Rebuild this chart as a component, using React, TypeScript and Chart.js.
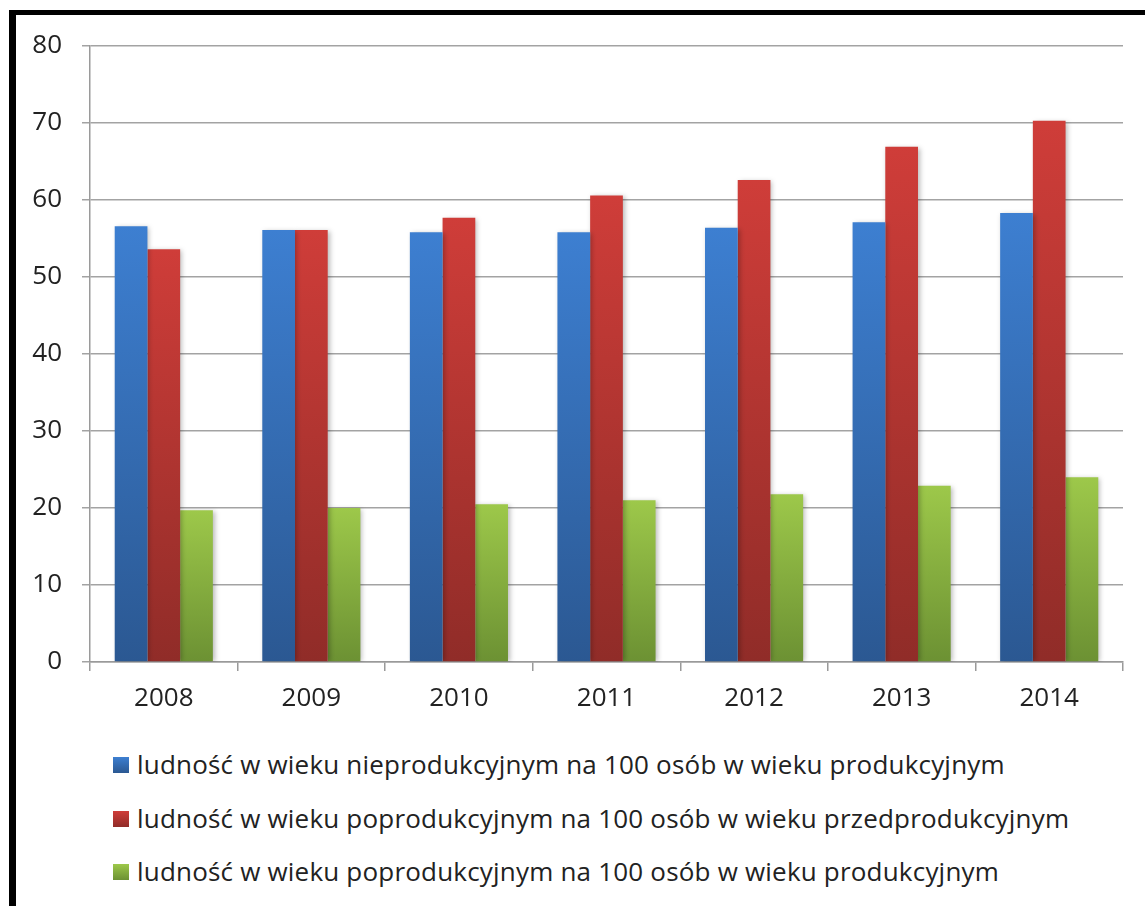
import React, { useEffect, useRef } from "react";
import { Chart, registerables } from "chart.js";

Chart.register(...registerables);

const years = ["2008", "2009", "2010", "2011", "2012", "2013", "2014"];
const nieprodukcyjnyNaProd = [56.6, 56.1, 55.8, 55.8, 56.4, 57.1, 58.3];
const poprodNaPrzedprod = [53.6, 56.1, 57.7, 60.6, 62.6, 66.9, 70.3];
const poprodNaProd = [19.7, 20.0, 20.5, 21.0, 21.8, 22.9, 24.0];
const seriesLabels = [
  "ludność w wieku nieprodukcyjnym na 100 osób w wieku produkcyjnym",
  "ludność w wieku poprodukcyjnym na 100 osób w wieku przedprodukcyjnym",
  "ludność w wieku poprodukcyjnym na 100 osób w wieku produkcyjnym",
];
const yTicks = [0, 10, 20, 30, 40, 50, 60, 70, 80];

const palette = [
  { top: "#3d7fd1", bottom: "#2b5892" },
  { top: "#cf3d39", bottom: "#902c28" },
  { top: "#9dc84a", bottom: "#6c9133" },
];

const FONT = "'Open Sans', 'DejaVu Sans', sans-serif";

function barGradient(top: string, bottom: string) {
  return (ctx: any) => {
    const chart = ctx.chart;
    if (!chart.chartArea || ctx.type !== "data") return bottom;
    const y = chart.scales.y;
    const yTop = y.getPixelForValue(ctx.raw);
    const yBase = y.getPixelForValue(0);
    const g = chart.ctx.createLinearGradient(0, yTop, 0, yBase);
    g.addColorStop(0, top);
    g.addColorStop(1, bottom);
    return g;
  };
}

const shadowPlugin = {
  id: "barShadow",
  beforeDatasetsDraw(chart: any) {
    const c = chart.ctx;
    c.save();
    c.shadowColor = "rgba(0,0,0,0.28)";
    c.shadowBlur = 5;
    c.shadowOffsetX = 2;
    c.shadowOffsetY = 1;
  },
  afterDatasetsDraw(chart: any) {
    chart.ctx.restore();
  },
};

export default function App() {
  const canvasRef = useRef<HTMLCanvasElement | null>(null);

  useEffect(() => {
    if (!canvasRef.current) return;
    const seriesData = [nieprodukcyjnyNaProd, poprodNaPrzedprod, poprodNaProd];
    const chart = new Chart(canvasRef.current, {
      type: "bar",
      data: {
        labels: years,
        datasets: seriesData.map((d, i) => ({
          label: seriesLabels[i],
          data: d,
          backgroundColor: barGradient(palette[i].top, palette[i].bottom),
          borderWidth: 0,
          categoryPercentage: 0.665,
          barPercentage: 1.0,
        })),
      },
      options: {
        responsive: false,
        animation: false,
        layout: { padding: { top: 46, right: 22, left: 0, bottom: 0 } },
        plugins: {
          legend: { display: false },
          tooltip: { enabled: false },
        },
        scales: {
          x: {
            offset: true,
            grid: {
              offset: true,
              display: true,
              drawOnChartArea: false,
              drawTicks: true,
              tickLength: 9,
              color: "#9a9a9a",
              lineWidth: 1.5,
            },
            border: { display: true, color: "#9a9a9a", width: 1.5 },
            ticks: {
              color: "#222",
              font: { family: FONT, size: 26 },
              padding: 12,
            },
            afterFit: (s: any) => {
              s.height = 78;
            },
          },
          y: {
            min: 0,
            max: 80,
            afterBuildTicks: (s: any) => {
              s.ticks = yTicks.map((v) => ({ value: v }));
            },
            grid: {
              color: "#a3a3a3",
              lineWidth: 1.5,
              drawTicks: true,
              tickLength: 8,
            },
            border: { display: true, color: "#9a9a9a", width: 1.5 },
            ticks: {
              color: "#222",
              font: { family: FONT, size: 26 },
              padding: 20,
            },
            afterFit: (s: any) => {
              s.width = 90;
            },
          },
        },
      },
      plugins: [shadowPlugin],
    });
    return () => chart.destroy();
  }, []);

  return (
    <div
      style={{
        position: "fixed",
        left: 0,
        top: 0,
        width: 1145,
        height: 906,
        background: "#fff",
        overflow: "hidden",
        fontFamily: FONT,
      }}
    >
      <div
        style={{
          position: "absolute",
          left: 9,
          top: 10,
          width: 1136,
          height: 920,
          borderLeft: "7px solid #000",
          borderTop: "5px solid #000",
          boxSizing: "border-box",
        }}
      />
      <canvas
        ref={canvasRef}
        width={1145}
        height={740}
        style={{ position: "absolute", left: 0, top: 0, width: 1145, height: 740 }}
      />
      {seriesLabels.map((lab, i) => (
        <div
          key={lab}
          style={{
            position: "absolute",
            left: 113,
            top: 765 + i * 53.5 - 20,
            height: 40,
            display: "flex",
            alignItems: "center",
            whiteSpace: "nowrap",
          }}
        >
          <div
            style={{
              width: 16,
              height: 16,
              background: `linear-gradient(to bottom, ${palette[i].top}, ${palette[i].bottom})`,
              marginRight: 8,
              flex: "none",
            }}
          />
          <span
            style={{
              fontSize: 26,
              letterSpacing: 0.2,
              color: "#222",
              position: "relative",
              top: -1,
            }}
          >
            {lab}
          </span>
        </div>
      ))}
    </div>
  );
}
